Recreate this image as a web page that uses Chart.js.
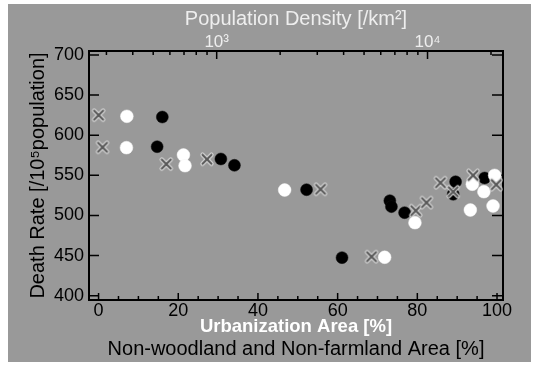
<!DOCTYPE html>
<html><head><meta charset="utf-8">
<script src="https://cdn.jsdelivr.net/npm/chart.js@4"></script>
<style>html,body{margin:0;padding:0;background:#fff;} canvas{display:block;}</style>
</head><body>
<canvas id="c" width="539" height="365"></canvas>
<script>
// Data
const crossX = [0, 1, 17, 27.2, 55.7, 68.5, 79.6, 82.3, 85.8, 89.0, 94.0, 99.8];
const crossY = [625, 585, 564, 570, 532.6, 448.6, 506, 516, 540.8, 529.6, 550, 538.4];
const whiteX = [7.1, 7.0, 21.3, 21.7, 46.7, 71.8, 79.4, 93.3, 93.8, 96.7, 99.4, 99.0];
const whiteY = [623.6, 584.5, 575.4, 562, 531.7, 447.9, 491, 506.8, 538.9, 529.6, 550, 511.8];
const blackX = [16.0, 14.7, 30.7, 34.1, 52.2, 61.1, 73.1, 73.5, 76.8, 89.6, 89.0, 96.9];
const blackY = [622.7, 585.7, 570.4, 562.5, 532.1, 447.4, 518.4, 511, 503.5, 542, 526.4, 546.7];
const yTicks = [400, 450, 500, 550, 600, 650, 700];
const xTicks = [0, 20, 40, 60, 80, 100];
const topTicks = [1000, 10000];
const topTickLabels = ['10³', '10⁴'];

const FONT = 'Liberation Sans, Arial, sans-serif';
const pts = (xs, ys) => xs.map((x, i) => ({x: x, y: ys[i]}));

function makeCross() {
  const c = document.createElement('canvas'); c.width = 16; c.height = 16;
  const g = c.getContext('2d');
  g.lineCap = 'round';
  const path = () => { g.beginPath(); g.moveTo(3.5,3.5); g.lineTo(12.5,12.5); g.moveTo(12.5,3.5); g.lineTo(3.5,12.5); g.stroke(); };
  g.strokeStyle = '#e4e4e4'; g.lineWidth = 4.2; path();
  g.strokeStyle = '#585858'; g.lineWidth = 2.2; path();
  return c;
}

const bgPlugin = {
  id: 'bg',
  beforeDraw(chart) {
    const ctx = chart.ctx;
    ctx.save();
    ctx.fillStyle = '#ffffff'; ctx.fillRect(0, 0, chart.width, chart.height);
    ctx.fillStyle = '#999999'; ctx.fillRect(8, 4, 523, 358);
    ctx.restore();
  }
};

const inwardTicks = {
  id: 'inwardTicks',
  beforeDatasetsDraw(chart) {
    const {ctx, chartArea: a, scales} = chart;
    ctx.save();
    ctx.strokeStyle = '#000';
    ctx.lineWidth = 1.5;
    ctx.beginPath();
    yTicks.forEach(v => {
      const p = scales.y.getPixelForValue(v);
      ctx.moveTo(a.left, p); ctx.lineTo(a.left + 10, p);
      ctx.moveTo(a.right, p); ctx.lineTo(a.right - 11, p);
    });
    for (let v = 0; v <= 100; v += 5) {
      const p = scales.x.getPixelForValue(v);
      const len = (v % 20 === 0) ? 7 : 4;
      ctx.moveTo(p, a.bottom); ctx.lineTo(p, a.bottom - len);
    }
    const t = scales.x2;
    for (let e = 2; e <= 4; e++) for (let m = 1; m <= 9; m++) {
      const v = m * Math.pow(10, e);
      if (v < t.min || v > t.max) continue;
      const p = t.getPixelForValue(v);
      const len = (m === 1) ? 8 : 4;
      ctx.moveTo(p, a.top); ctx.lineTo(p, a.top + len);
    }
    ctx.stroke();
    ctx.restore();
  }
};

const noGrid = { display: false, drawTicks: false };

new Chart(document.getElementById('c'), {
  type: 'scatter',
  data: {
    datasets: [
      { label: 'cross', data: pts(crossX, crossY), pointStyle: makeCross(), pointRadius: 8 },
      { label: 'white', data: pts(whiteX, whiteY), pointStyle: 'circle', pointRadius: 6.4,
        backgroundColor: '#ffffff', borderColor: '#f4f4f4', borderWidth: 0.5 },
      { label: 'black', data: pts(blackX, blackY), pointStyle: 'circle', pointRadius: 6,
        backgroundColor: '#000000', borderColor: '#111', borderWidth: 0.5 }
    ]
  },
  options: {
    responsive: false,
    animation: false,
    devicePixelRatio: 1,
    layout: { padding: 0 },
    plugins: { legend: { display: false }, tooltip: { enabled: false } },
    scales: {
      x: {
        type: 'linear', position: 'bottom', min: -2.4, max: 101.5, weight: 0,
        afterBuildTicks: s => { s.ticks = xTicks.map(v => ({value: v})); },
        afterFit: s => { s.height = 38; },
        grid: noGrid,
        border: { display: true, color: '#000', width: 2 },
        ticks: { color: '#000', font: { family: FONT, size: 18 }, padding: 0, autoSkip: false, maxRotation: 0 },
        title: { display: true, text: 'Urbanization Area [%]', color: '#ffffff',
                 font: { family: FONT, size: 18.5, weight: 'bold' }, padding: { top: 0, bottom: 0 } }
      },
      xb: {
        type: 'linear', position: 'bottom', min: -2.4, max: 101.5, weight: 1,
        afterFit: s => { s.height = 27; },
        grid: noGrid, border: { display: false }, ticks: { display: false },
        title: { display: true, text: 'Non-woodland and Non-farmland Area [%]', color: '#000',
                 font: { family: FONT, size: 20 }, padding: { top: 0, bottom: 4 } }
      },
      x2: {
        type: 'logarithmic', position: 'top', min: 248, max: 22800,
        afterBuildTicks: s => { s.ticks = topTicks.map(v => ({value: v})); },
        afterFit: s => { s.height = 51; },
        grid: noGrid,
        border: { display: true, color: '#000', width: 2 },
        ticks: { color: '#eeeeee', font: { family: FONT, size: 17, lineHeight: 1 }, padding: 0, autoSkip: false, maxRotation: 0,
                 callback: v => topTickLabels[topTicks.indexOf(v)] },
        title: { display: true, text: 'Population Density [/km²]', color: '#eeeeee',
                 font: { family: FONT, size: 20 }, padding: { top: 7, bottom: 0 } }
      },
      y: {
        type: 'linear', position: 'left', min: 394.6, max: 705,
        afterBuildTicks: s => { s.ticks = yTicks.map(v => ({value: v})); },
        afterFit: s => { s.width = 89; },
        grid: noGrid,
        border: { display: true, color: '#000', width: 2 },
        ticks: { color: '#000', font: { family: FONT, size: 18 }, padding: 5, autoSkip: false },
        title: { display: true, text: 'Death Rate [/10⁵population]', color: '#000',
                 font: { family: FONT, size: 20 }, padding: { top: 26.5, bottom: 0 } }
      },
      y2: {
        type: 'linear', position: 'right', min: 394.6, max: 705,
        afterFit: s => { s.width = 36; },
        grid: noGrid,
        border: { display: true, color: '#000', width: 2 },
        ticks: { display: false }
      }
    }
  },
  plugins: [bgPlugin, inwardTicks]
});
</script>
</body></html>
